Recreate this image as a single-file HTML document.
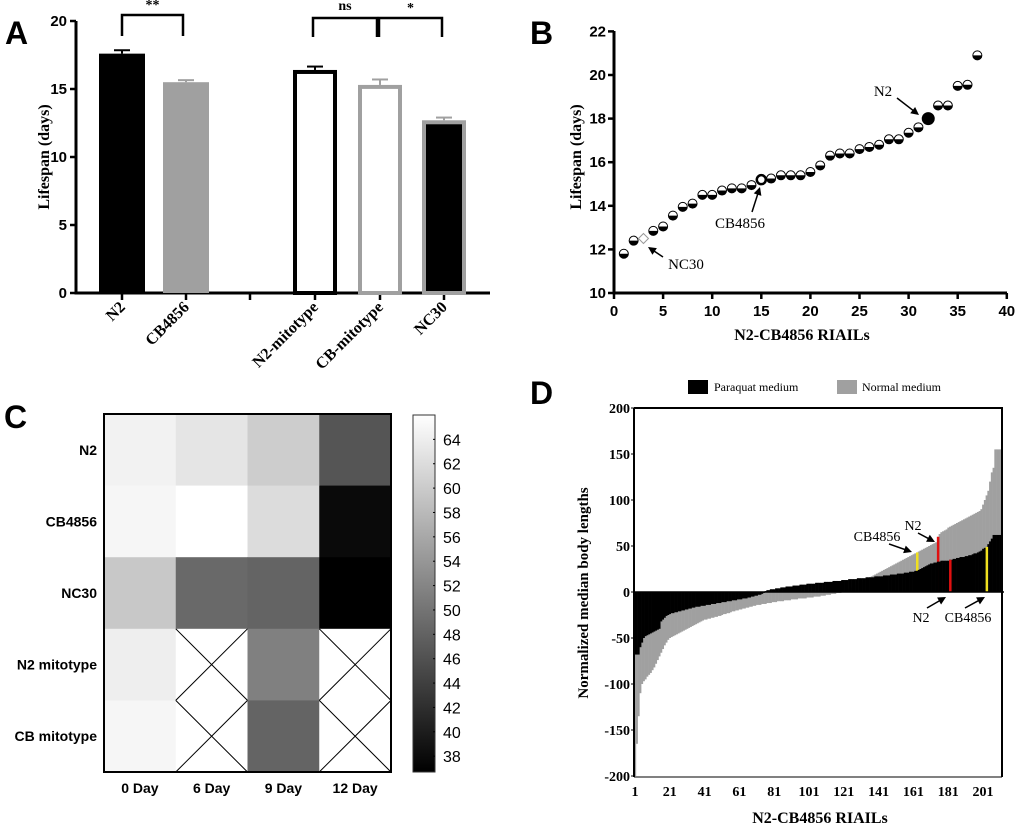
<!DOCTYPE html>
<html><head><meta charset="utf-8"><style>
body{margin:0;background:#fff}
svg{display:block}
.serif{font-family:"Liberation Serif",serif}
.sans{font-family:"Liberation Sans",sans-serif}
</style></head><body>
<svg id="fig" width="1020" height="828" xmlns="http://www.w3.org/2000/svg">
<g id="pa"></g>
<g id="pb"></g>
<g id="pc"></g>
<g id="pd"></g>
</svg>
<script>
// ---- Panel A data ----
const aCats = ["N2","CB4856","","N2-mitotype","CB-mitotype","NC30"];
const aVals = [17.6,15.5,null,16.4,15.3,12.7];
const aErr = [0.25,0.15,null,0.25,0.4,0.2];
const aTicks = [0,5,10,15,20];
// ---- Panel B data ----
const bVals = [11.8,12.4,12.5,12.85,13.05,13.55,13.95,14.1,14.5,14.5,14.7,14.8,14.8,14.95,15.2,15.25,15.4,15.4,15.4,15.55,15.85,16.3,16.4,16.4,16.6,16.7,16.8,17.05,17.05,17.35,17.6,18.0,18.6,18.6,19.5,19.55,20.9];
const bXTicks = [0,5,10,15,20,25,30,35,40];
const bYTicks = [10,12,14,16,18,20,22];
// ---- Panel C data ----
const cRows = ["N2","CB4856","NC30","N2 mitotype","CB mitotype"];
const cCols = ["0 Day","6 Day","9 Day","12 Day"];
const cVals = [[64.5,63,60.2,46.5],[65,66,62,37.8],[59.7,48.8,48.2,36.7],[64,null,51.4,null],[65,null,48.2,null]];
const cTicks = [38,40,42,44,46,48,50,52,54,56,58,60,62,64];
// ---- Panel D data ----
const dNormal = [-200,-165,-135,-110,-100,-97,-95,-92,-90,-88,
-85,-82,-78,-74,-70,-66,-62,-58,-55,-52,
-50,-49,-48,-47,-46,-45,-44,-43,-42,-41,
-40,-39,-38,-37,-36,-35,-34,-33,-32,-31,
-30,-30,-29,-29,-28,-28,-27,-27,-26,-26,
-25,-24,-24,-23,-23,-22,-21,-21,-20,-20,
-19,-19,-18,-18,-17,-17,-16,-16,-15,-15,
-14,-14,-14,-13,-13,-13,-12,-12,-12,-11,
-11,-11,-10,-10,-10,-10,-9,-9,-9,-9,
-8,-8,-8,-8,-7,-7,-7,-7,-7,-6,
-6,-6,-6,-5,-5,-5,-5,-4,-4,-4,
-3,-3,-3,-2,-2,-2,-1,-1,-1,0,
1,2,3,4,5,6,7,8,9,10,
11,12,13,14,15,16,17,18,19,20,
21,22,23,24,25,26,27,28,29,30,
31,32,33,34,35,36,37,38,39,40,
41,42,43,44,45,46,47,48,49,50,
51,52,53,54,60,63,65,66,67,68,
70,71,72,73,74,75,76,77,78,79,
80,81,82,83,84,85,86,87,88,90,
95,100,105,110,120,130,135,155,155,155,155];
const dParaquat = [-68,-68,-68,-60,-55,-50,-48,-47,-46,-45,
-44,-43,-42,-41,-40,-32,-30,-28,-26,-25,
-24,-23,-23,-22,-22,-21,-21,-20,-20,-19,
-19,-18,-18,-17,-17,-16,-16,-16,-15,-15,
-15,-14,-14,-14,-13,-13,-13,-12,-12,-12,
-11,-11,-11,-10,-10,-10,-9,-9,-9,-8,
-8,-8,-7,-7,-7,-6,-6,-5,-5,-4,
-4,-3,-3,-2,-1,1,2,2,3,3,
3,4,4,4,5,5,5,6,6,6,
6,7,7,7,7,8,8,8,8,9,
9,9,9,9,10,10,10,10,10,11,
11,11,11,11,12,12,12,12,12,13,
13,13,13,14,14,14,14,14,15,15,
15,15,15,16,16,16,16,16,17,17,
17,17,17,18,18,18,18,19,19,19,
19,20,20,20,20,21,21,21,22,22,
22,23,23,24,25,26,27,28,29,30,
31,31,32,32,33,33,34,34,34,34,
34,35,35,36,36,37,37,38,38,38,
39,39,40,40,41,42,42,43,44,45,
47,48,49,52,55,58,62,62,62,62,62];
const dHighlightNormal = [[163,"#f0e020"],[175,"#e01010"]];
const dHighlightParaquat = [[182,"#e01010"],[203,"#f0e020"]];
const dYTicks = [200,150,100,50,0,-50,-100,-150,-200];
const dXTicks = [1,21,41,61,81,101,121,141,161,181,201];

const NS="http://www.w3.org/2000/svg";
function mk(parent,tag,attrs,text){const e=document.createElementNS(NS,tag);for(const k in attrs)e.setAttribute(k,attrs[k]);if(text!==undefined)e.textContent=text;parent.appendChild(e);return e;}

// ================= Panel A =================
(function(){
const g=document.getElementById('pa');
const y=v=>293-v*13.6;
const xs=[122,186,250,315,380,444];
let t=mk(g,'text',{x:5,y:44,class:'sans','font-size':32,'font-weight':'bold'},'A');

t=mk(g,'text',{transform:'translate(49,157) rotate(-90)',class:'serif','font-size':16,'font-weight':'bold','text-anchor':'middle'},'Lifespan (days)');

let l=mk(g,'path',{d:'M76,21 V293 H490',fill:'none',stroke:'#000','stroke-width':3});

aTicks.forEach(v=>{
 mk(g,'line',{x1:70,x2:76,y1:y(v),y2:y(v),stroke:'#000','stroke-width':2.5});
 const tt=mk(g,'text',{x:67,y:y(v)+5,class:'sans','font-size':15,'font-weight':'bold','text-anchor':'end'},v);
 
});
const styles=[{f:'#000',s:'none'},{f:'#a0a0a0',s:'none'},null,{f:'#fff',s:'#000'},{f:'#fff',s:'#a0a0a0'},{f:'#000',s:'#a0a0a0'}];
aCats.forEach((c,i)=>{
 mk(g,'line',{x1:xs[i],x2:xs[i],y1:293,y2:300,stroke:'#000','stroke-width':2.5});
 if(aVals[i]===null)return;
 const w=i<2?46:44, st=styles[i];
 const ty=y(aVals[i]);
 mk(g,'line',{x1:xs[i],x2:xs[i],y1:ty,y2:y(aVals[i]+aErr[i]),stroke:st.s==='none'?st.f:st.s,'stroke-width':2});
 mk(g,'line',{x1:xs[i]-8,x2:xs[i]+8,y1:y(aVals[i]+aErr[i]),y2:y(aVals[i]+aErr[i]),stroke:st.s==='none'?st.f:st.s,'stroke-width':2});
 let b;
 if(st.s==='none') b=mk(g,'rect',{x:xs[i]-w/2,y:ty,width:w,height:293-ty,fill:st.f});
 else b=mk(g,'rect',{x:xs[i]-w/2+2,y:ty+2,width:w-4,height:293-ty-2,fill:st.f,stroke:st.s,'stroke-width':4});
 
 const lab=mk(g,'text',{transform:`translate(${xs[i]+4},${308}) rotate(-45)`,class:'serif','font-size':16,'font-weight':'bold','text-anchor':'end'},c);
 
});
const br=[[122,183,15,36,'**',9],[313,377,18,37,'ns',10],[379,442,18,37,'*',12]];
br.forEach(b=>{
 const p=mk(g,'path',{d:`M${b[0]},${b[3]} V${b[2]} H${b[1]} V${b[3]}`,fill:'none',stroke:'#000','stroke-width':2.5});
 
 const s=mk(g,'text',{x:(b[0]+b[1])/2,y:b[5],class:'serif','font-size':14,'font-weight':'bold','text-anchor':'middle'},b[4]);
 
});
})();

// ================= Panel B =================
(function(){
const g=document.getElementById('pb');
const x=v=>614+v*9.82, y=v=>293-(v-10)*21.8;
let t=mk(g,'text',{x:530,y:44,class:'sans','font-size':32,'font-weight':'bold'},'B');

let l=mk(g,'path',{d:'M614,31 V293 H1007',fill:'none',stroke:'#000','stroke-width':3});

bYTicks.forEach(v=>{mk(g,'line',{x1:608,x2:614,y1:y(v),y2:y(v),stroke:'#000','stroke-width':2.5});
 const tt=mk(g,'text',{x:606,y:y(v)+5,class:'sans','font-size':15,'font-weight':'bold','text-anchor':'end'},v);
 });
bXTicks.forEach(v=>{mk(g,'line',{x1:x(v),x2:x(v),y1:293,y2:299,stroke:'#000','stroke-width':2.5});
 const tt=mk(g,'text',{x:x(v),y:316,class:'sans','font-size':15,'font-weight':'bold','text-anchor':'middle'},v);
 });
t=mk(g,'text',{transform:'translate(581,157) rotate(-90)',class:'serif','font-size':16,'font-weight':'bold','text-anchor':'middle'},'Lifespan (days)');

t=mk(g,'text',{x:802,y:340,class:'serif','font-size':16,'font-weight':'bold','text-anchor':'middle'},'N2-CB4856 RIAILs');

bVals.forEach((v,i)=>{
 const cx=x(i+1), cy=y(v), r=4.5;
 let m;
 if(i===2){m=mk(g,'path',{d:`M${cx},${cy-5} L${cx+5},${cy} L${cx},${cy+5} L${cx-5},${cy}Z`,fill:'#fff',stroke:'#999','stroke-width':1});}
 else if(i===14){m=mk(g,'circle',{cx,cy,r:4.5,fill:'#fff',stroke:'#000','stroke-width':2.5});}
 else if(i===31){m=mk(g,'circle',{cx,cy,r:6.5,fill:'#000'});}
 else{m=mk(g,'g',{});mk(m,'circle',{cx,cy,r,fill:'#fff',stroke:'#000','stroke-width':1});
  mk(m,'path',{d:`M${cx-r},${cy} A${r},${r} 0 0 0 ${cx+r},${cy} Z`,fill:'#000'});}
 
});
const ann=[['N2',883,96,897,98,919,115],['CB4856',740,228,752,212,760,187],['NC30',686,269,663,257,648,247]];
ann.forEach(a=>{
 const tt=mk(g,'text',{x:a[1],y:a[2],class:'serif','font-size':15,'text-anchor':'middle'},a[0]);
 
 const dx=a[5]-a[3],dy=a[6]-a[4],L=Math.hypot(dx,dy),ux=dx/L,uy=dy/L;
 mk(g,'line',{x1:a[3],y1:a[4],x2:a[5]-ux*5,y2:a[6]-uy*5,stroke:'#000','stroke-width':1.5});
 mk(g,'path',{d:`M${a[5]},${a[6]} L${a[5]-ux*8-uy*4},${a[6]-uy*8+ux*4} L${a[5]-ux*8+uy*4},${a[6]-uy*8-ux*4}Z`,fill:'#000'});
});
})();

// ================= Panel C =================
(function(){
const g=document.getElementById('pc');
const x0=104,y0=414,cw=71.75,ch=71.6,lo=36.7,hi=66;
const gray=v=>{const k=Math.round(Math.max(0,Math.min(1,(v-lo)/(hi-lo)))*255);return `rgb(${k},${k},${k})`;};
let t=mk(g,'text',{x:4,y:428,class:'sans','font-size':32,'font-weight':'bold'},'C');

cVals.forEach((row,r)=>{
 row.forEach((v,c)=>{
  const X=x0+c*cw,Y=y0+r*ch;
  let cell;
  if(v===null){cell=mk(g,'g',{});mk(cell,'rect',{x:X,y:Y,width:cw,height:ch,fill:'#fff'});
   mk(cell,'path',{d:`M${X},${Y} L${X+cw},${Y+ch} M${X+cw},${Y} L${X},${Y+ch}`,stroke:'#000','stroke-width':1});}
  else cell=mk(g,'rect',{x:X,y:Y,width:cw+0.5,height:ch+0.5,fill:gray(v)});
  
 });
 const tt=mk(g,'text',{x:97,y:y0+r*ch+ch/2+5,class:'sans','font-size':14,'font-weight':'bold','text-anchor':'end'},cRows[r]);
 
});
cCols.forEach((c,i)=>{const tt=mk(g,'text',{x:x0+i*cw+cw/2,y:793,class:'sans','font-size':14,'font-weight':'bold','text-anchor':'middle'},c);
 });
let b=mk(g,'rect',{x:x0,y:y0,width:cw*4,height:ch*5,fill:'none',stroke:'#000','stroke-width':2});

const defs=mk(g,'defs',{});const lg=mk(defs,'linearGradient',{id:'cbg',x1:0,y1:0,x2:0,y2:1});
mk(lg,'stop',{offset:0,'stop-color':'#fff'});mk(lg,'stop',{offset:1,'stop-color':'#000'});
const cb=mk(g,'rect',{x:413,y:415,width:22,height:357,fill:'url(#cbg)',stroke:'#333','stroke-width':1});

const cy=v=>415+(hi-v)/(hi-lo)*357;
cTicks.forEach(v=>{mk(g,'line',{x1:433,x2:435,y1:cy(v),y2:cy(v),stroke:'#000'});
 const tt=mk(g,'text',{x:443,y:cy(v)+6,class:'sans','font-size':16,'text-anchor':'start'},v);
 });
})();

// ================= Panel D =================
(function(){
const g=document.getElementById('pd');
const xl=634,xr=1002,yt=408,yb=777,z=592;
const bw=1.74;
const x=i=>635+(i-1)*bw-bw/2;
const y=v=>z-v*0.92;
let t=mk(g,'text',{x:530,y:404,class:'sans','font-size':32,'font-weight':'bold'},'D');

dNormal.forEach((v,i)=>{const r=mk(g,'rect',{x:x(i+1),y:Math.min(y(v),z),width:bw+0.3,height:Math.abs(y(v)-z),fill:'#a0a0a0'});
 });
dHighlightNormal.forEach(h=>{const v=dNormal[h[0]-1];mk(g,'rect',{x:x(h[0]),y:y(v),width:2.5,height:z-y(v),fill:h[1]});});
dParaquat.forEach((v,i)=>{const r=mk(g,'rect',{x:x(i+1),y:Math.min(y(v),z),width:bw+0.3,height:Math.abs(y(v)-z),fill:'#000'});
 });
dHighlightParaquat.forEach(h=>{const v=dParaquat[h[0]-1];mk(g,'rect',{x:x(h[0]),y:y(v),width:2.5,height:z-y(v),fill:h[1]});});
let ax=mk(g,'path',{d:`M${xl},${yt} V${yb} M${xl},${yt} H${xr} V${yb}`,fill:'none',stroke:'#000','stroke-width':2});

mk(g,'line',{x1:xl,x2:1004,y1:z,y2:z,stroke:'#000','stroke-width':1.5});
mk(g,'line',{x1:xl,x2:xr,y1:yb,y2:yb,stroke:'#000','stroke-width':1});
dYTicks.forEach(v=>{mk(g,'line',{x1:xl-3,x2:xl,y1:y(v),y2:y(v),stroke:'#000'});
 const tt=mk(g,'text',{x:630,y:y(v)+5,class:'serif','font-size':14,'font-weight':'bold','text-anchor':'end'},v);
 });
dXTicks.forEach(v=>{const tt=mk(g,'text',{x:635+(v-1)*bw,y:796,class:'serif','font-size':14,'font-weight':'bold','text-anchor':'middle'},v);
 });
t=mk(g,'text',{transform:'translate(588,593) rotate(-90)',class:'serif','font-size':15,'font-weight':'bold','text-anchor':'middle'},'Normalized median body lengths');

t=mk(g,'text',{x:820,y:823,class:'serif','font-size':16,'font-weight':'bold','text-anchor':'middle'},'N2-CB4856 RIAILs');

let lg=mk(g,'g',{});
mk(lg,'rect',{x:688,y:380,width:20,height:14,fill:'#000'});mk(lg,'text',{x:714,y:391,class:'serif','font-size':12},'Paraquat medium');
lg=mk(g,'g',{});
mk(lg,'rect',{x:837,y:380,width:20,height:14,fill:'#a0a0a0'});mk(lg,'text',{x:862,y:391,class:'serif','font-size':12},'Normal medium');
const ann=[['CB4856',877,541,889,544,912,552],['N2',913,530,918,533,935,542],['N2',921,622,927,608,946,597],['CB4856',968,622,965,608,985,597]];
ann.forEach(a=>{
 const tt=mk(g,'text',{x:a[1],y:a[2],class:'serif','font-size':14,'text-anchor':'middle'},a[0]);
 
 const dx=a[5]-a[3],dy=a[6]-a[4],L=Math.hypot(dx,dy),ux=dx/L,uy=dy/L;
 mk(g,'line',{x1:a[3],y1:a[4],x2:a[5]-ux*5,y2:a[6]-uy*5,stroke:'#000','stroke-width':1.5});
 mk(g,'path',{d:`M${a[5]},${a[6]} L${a[5]-ux*8-uy*4},${a[6]-uy*8+ux*4} L${a[5]-ux*8+uy*4},${a[6]-uy*8-ux*4}Z`,fill:'#000'});
});
})();
</script>
</body></html>
